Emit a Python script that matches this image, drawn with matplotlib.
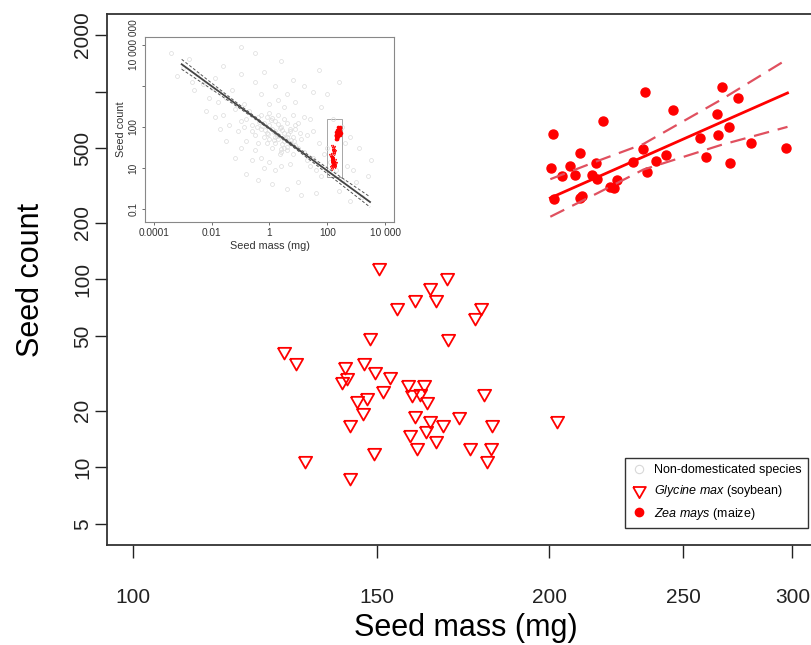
import numpy as np
import matplotlib.pyplot as plt
from matplotlib.lines import Line2D
from matplotlib.patches import Rectangle
from matplotlib.ticker import NullLocator

plt.rcParams['font.family'] = ['Liberation Sans', 'DejaVu Sans']
plt.rcParams['mathtext.fontset'] = 'custom'
plt.rcParams['mathtext.it'] = 'Liberation Sans:italic'
plt.rcParams['mathtext.rm'] = 'Liberation Sans'

# Glycine max (soybean)
soy_mass = [150.5, 168.7, 164.1, 159.9, 165.7, 155.2, 178.4, 176.7, 148.4, 168.9,
            128.6, 131.2, 142.4, 147.0, 149.5, 153.5, 142.8, 141.6, 158.1, 162.3,
            151.6, 159.2, 161.4, 179.4, 147.6, 145.2, 163.2, 146.6, 159.9, 172.0,
            164.1, 167.6, 143.6, 181.9, 202.7, 163.0, 158.7, 165.7, 160.5, 175.2,
            181.4, 180.4, 149.3, 133.2, 143.4]
soy_count = [117, 103.5, 90.9, 78.5, 78.5, 71.7, 71.1, 62.9, 49.6, 48.6,
             41.8, 36.5, 34.8, 36.5, 32.7, 30.6, 30.2, 28.8, 27.8, 27.8,
             25.8, 24.6, 24.8, 24.8, 23.8, 22.8, 22.6, 19.6, 19.0, 18.8,
             17.9, 17.0, 17.0, 17.0, 17.9, 15.8, 15.0, 13.9, 12.9, 12.9,
             12.9, 11.0, 12.0, 11.0, 8.9]

# Zea mays (maize)
maize_mass = [201.3, 200.6, 201.7, 204.5, 207.0, 208.9, 210.7, 210.4, 211.4, 214.9,
              216.3, 216.7, 218.8, 221.5, 222.7, 224.0, 230.2, 233.9, 234.5, 235.3,
              239.1, 243.0, 245.9, 257.4, 259.6, 264.7, 265.0, 266.8, 269.8, 270.2,
              274.0, 280.0, 297.1]
maize_count = [594.9, 393.6, 267.2, 355.4, 403.3, 359.8, 469.4, 270.5, 276.5, 359.8,
               418.4, 341.5, 697.6, 311.8, 305.8, 338.5, 423.6, 494.9, 991.5, 374.7,
               428.9, 458.1, 798.1, 564.2, 447.0, 760, 587.5, 1062, 645.7, 418.4,
               921, 534.6, 502.8]

# maize fit with confidence band
fit_mass = [200.4, 216.8, 234.0, 266.2, 297.6]
fit_count = [271.5, 350.6, 449.5, 684.3, 983]
fit_upper = [341.8, 427, 525.7, 902, 1489]
fit_lower = [215.7, 288, 384.3, 519, 649]

# inset: non-domesticated species (log10 mass, log10 count)
cloud_lmass = [0.1, 0.3, -0.2, 0.5, 0.7, -0.4, 0.0, 0.2, 0.9, -0.1,
               0.4, 0.6, -0.3, 0.8, 1.0, -0.6, 0.2, 0.5, -0.5, 0.3,
               1.1, 0.0, -0.8, 0.7, 0.4, -0.2, 0.9, 0.1, -0.7, 0.6,
               1.2, -0.4, 0.3, 0.8, -0.1, 0.5, 1.3, -0.9, 0.2, 0.6,
               -1.2, -1.5, -1.0, -1.8, -1.3, -0.9, -1.6, -2.0, -1.1, -1.4,
               1.5, 1.7, 1.4, 1.9, 1.6, 2.1, 1.8, 1.3, 2.0, 1.5,
               -0.5, -0.3, 0.0, -0.8, 0.4, -1.0, 0.2, -0.6, 0.7, -0.2,
               0.8, 1.0, 0.5, 1.2, 0.3, 0.9, 1.4, 0.0, -0.3, 0.6,
               2.3, 2.5, 2.2, 2.7, 2.4, -2.3, -2.1, -2.5, -1.9, -2.6,
               -3.0, -2.8, -3.2, -2.7, -3.4, 3.0, 3.2, 2.9, 3.4, 2.8,
               -1.5, -1.2, -0.8, -1.7, -1.9, -2.2, -0.4, 0.1, 1.0, 0.6,
               1.8, 2.2, 1.5, 2.5, 1.2, 2.8, 2.0, 0.8, 1.7, 2.4,
               -1.0, -0.5, -1.6, 0.2, -0.2, 3.1, 2.6, 3.5, 1.1, 1.6,
               -1.0, -0.5, 0.4,
               0.15, 0.35, -0.25, 0.55, 0.05, 0.45, -0.15, 0.25, 0.65, -0.35,
               0.75, 0.1, 0.4, -0.05, 0.3, 0.6, 0.2, -0.45, 0.85, 0.0,
               -0.6, 0.5, 1.05, -0.3, 0.35, 0.7, -0.1, 0.9, 0.15, 0.45]
cloud_lcount = [2.9, 2.6, 3.2, 2.3, 2.8, 3.5, 2.4, 3.3, 2.1, 2.7,
                3.0, 1.9, 2.9, 2.5, 2.0, 3.1, 2.2, 2.7, 2.6, 3.6,
                2.4, 3.1, 3.4, 2.2, 1.8, 2.5, 2.9, 2.0, 3.8, 3.2,
                1.8, 2.2, 2.4, 1.7, 3.5, 2.0, 2.6, 3.0, 2.8, 2.5,
                3.9, 4.4, 3.3, 4.2, 4.8, 4.1, 3.6, 4.9, 2.8, 3.1,
                1.5, 2.2, 1.1, 1.7, 0.9, 1.3, 0.6, 1.4, 2.0, 2.8,
                1.9, 1.5, 1.3, 2.3, 1.1, 2.0, 0.9, 1.4, 1.2, 1.0,
                3.6, 3.2, 4.0, 3.5, 4.3, 4.2, 3.4, 4.1, 4.6, 4.6,
                0.9, 0.4, 1.7, 1.1, -0.1, 5.1, 4.4, 5.6, 5.4, 4.8,
                5.9, 6.3, 5.5, 5.2, 6.6, 0.3, -0.4, 0.9, 0.6, -0.6,
                2.3, 1.5, 0.7, 2.9, 3.5, 3.8, 0.4, 0.2, 0.3, 0.0,
                4.0, 3.4, 4.7, 3.0, 5.0, 2.5, 4.6, 5.3, 5.8, 5.2,
                5.6, 5.2, 6.0, 5.0, 5.7, 2.0, 2.2, 1.4, -0.3, -0.2,
                6.9, 6.6, 6.2,
                2.75, 2.95, 3.05, 2.45, 3.35, 2.15, 2.85, 2.55, 2.65, 3.25,
                2.35, 3.45, 1.95, 2.65, 3.15, 2.05, 2.5, 3.0, 2.3, 3.7,
                2.8, 3.4, 2.7, 3.6, 1.7, 2.9, 2.2, 3.1, 2.35, 2.85]

# inset: fitted line log10(count) = a + b*log10(mass), with band half-widths
inset_a, inset_b = 2.93, -1.03
band_lmass = [-3.04, -2.0, -1.0, 0.0, 1.0, 2.0, 3.48]
band_half = [0.24, 0.15, 0.08, 0.04, 0.07, 0.14, 0.25]

red = '#ff0000'
W, H = 812, 645
fig = plt.figure(figsize=(W / 100, H / 100), dpi=100)
ax = fig.add_axes([107 / W, 1 - 545 / H, (825 - 107) / W, (545 - 14) / H])

tri = [(-1, 0.55), (1, 0.55), (0, -1.2), (-1, 0.55)]
ax.plot(soy_mass, soy_count, linestyle='none', marker=tri, ms=11.5, mfc='none',
        mec=red, mew=1.3)
ax.plot(maize_mass, maize_count, linestyle='none', marker='o', ms=6.5,
        mfc=red, mec=red)
ax.plot(fit_mass, fit_count, color=red, lw=2.0)
ax.plot(fit_mass, fit_upper, color='#e0505f', lw=1.6, dashes=(7, 4))
ax.plot(fit_mass, fit_lower, color='#e0505f', lw=1.6, dashes=(7, 4))

ax.set_xscale('log')
ax.set_yscale('log')
ax.set_xlim(95.7, 316.8)
ax.set_ylim(3.86, 2588)
ax.xaxis.set_minor_locator(NullLocator())
ax.yaxis.set_minor_locator(NullLocator())
ax.set_xticks([100, 150, 200, 250, 300])
ax.set_xticklabels(['100', '150', '200', '250', '300'])
ax.set_yticks([5, 10, 20, 50, 100, 200, 500, 1000, 2000])
ax.set_yticklabels(['5', '10', '20', '50', '100', '200', '500', '', '2000'],
                   rotation=90, va='center')
ax.tick_params(axis='both', direction='out', length=9, width=1.0,
               colors='#222222', labelsize=15)
ax.tick_params(axis='x', pad=22)
ax.tick_params(axis='y', pad=1.5)
for s in ax.spines.values():
    s.set_linewidth(1.3)
    s.set_color('#333333')
ax.spines['right'].set_visible(False)
ax.set_xlabel('Seed mass (mg)', fontsize=22, va='center')
ax.set_ylabel('Seed count', fontsize=22, va='center')
ax.xaxis.set_label_coords((466 - 107) / (825 - 107), -(628 - 545) / (545 - 14))
ax.yaxis.set_label_coords(-(107 - 31) / (825 - 107), 0.5)

handles = [
    Line2D([], [], linestyle='none', marker='o', ms=6, mfc='none', mec='#d8d8d8', mew=0.8),
    Line2D([], [], linestyle='none', marker=tri, ms=11, mfc='none', mec=red, mew=1.3),
    Line2D([], [], linestyle='none', marker='o', ms=6, mfc=red, mec=red),
]
labels = ['Non-domesticated species', r'$\it{Glycine\ max}$ (soybean)',
          r'$\it{Zea\ mays}$ (maize)']
leg = ax.legend(handles, labels, loc='lower right', fontsize=9,
                bbox_to_anchor=(808 / W, 1 - 528 / H), bbox_transform=fig.transFigure,
                frameon=True, fancybox=False, framealpha=1, edgecolor='#333333',
                handlelength=1.2, handletextpad=0.6, labelspacing=0.55,
                borderpad=0.5, borderaxespad=0)
leg.get_frame().set_linewidth(1.0)

# inset
ins = fig.add_axes([145 / W, 1 - 222 / H, (394 - 145) / W, (222 - 37) / H])
ins.set_facecolor('white')
ins.plot(10 ** np.array(cloud_lmass), 10 ** np.array(cloud_lcount), linestyle='none',
         marker='o', ms=2.8, mfc='none', mec='#dcdcdc', mew=0.5)
lm = np.array(band_lmass)
mid = inset_a + inset_b * lm
ins.plot(10 ** lm, 10 ** mid, color='#444444', lw=1.3)
ins.plot(10 ** lm, 10 ** (mid + np.array(band_half)), color='#555555', lw=0.7, dashes=(3, 2))
ins.plot(10 ** lm, 10 ** (mid - np.array(band_half)), color='#555555', lw=0.7, dashes=(3, 2))
ins.plot(soy_mass, soy_count, linestyle='none', marker='v', ms=1.8, mfc='none',
         mec=red, mew=0.5)
ins.plot(maize_mass, maize_count, linestyle='none', marker='o', ms=1.6, mfc=red, mec=red)
ins.add_patch(Rectangle((95.7, 3.86), 316.8 - 95.7, 2588 - 3.86, fill=False,
                        ec='#999999', lw=0.6))
ins.set_xscale('log')
ins.set_yscale('log')
ins.set_xlim(10 ** -4.31, 10 ** 4.31)
ins.set_ylim(10 ** -1.63, 10 ** 7.39)
ins.xaxis.set_minor_locator(NullLocator())
ins.yaxis.set_minor_locator(NullLocator())
ins.set_xticks([1e-4, 1e-2, 1, 1e2, 1e4])
ins.set_xticklabels(['0.0001', '0.01', '1', '100', '10 000'])
ins.set_yticks([0.1, 10, 1e3, 1e5, 1e7])
ins.set_yticklabels(['0.1', '10', '100', '', '10 000 000'], rotation=90, va='center')
ins.tick_params(axis='both', direction='out', length=2.5, width=0.6,
                colors='#555555', labelsize=7.3, labelcolor='#333333', pad=2)
for s in ins.spines.values():
    s.set_linewidth(0.8)
    s.set_color('#888888')
ins.set_xlabel('Seed mass (mg)', fontsize=7.8, color='#333333', labelpad=2)
ins.set_ylabel('Seed count', fontsize=7.8, color='#333333', labelpad=2)

fig.savefig('out.png', dpi=100)
